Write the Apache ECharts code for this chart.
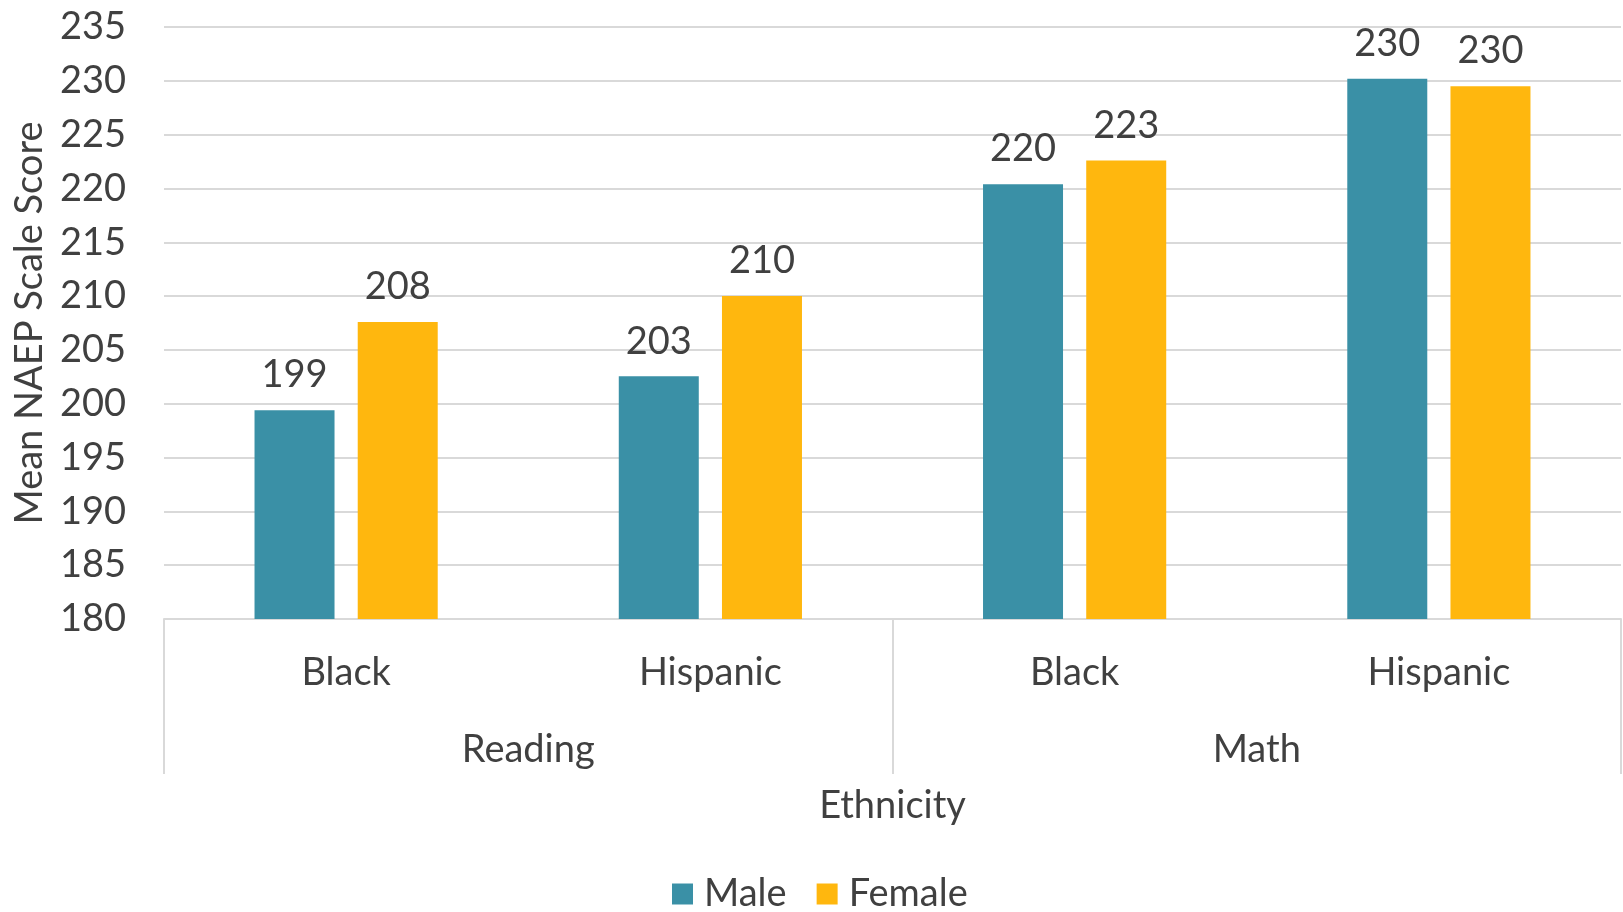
<!DOCTYPE html>
<html>
<head>
<meta charset="utf-8">
<script src="https://cdn.jsdelivr.net/npm/echarts@6/dist/echarts.min.js"></script>
<style>
html,body{margin:0;padding:0;background:#fff;}
#chart{width:1623px;height:912px;}
</style>
</head>
<body>
<div id="chart"></div>
<script>
const ethnicities = ['Black', 'Hispanic', 'Black', 'Hispanic'];
const subjects = ['Reading', 'Math'];
const maleScores = [199.4, 202.55, 220.4, 230.2];
const femaleScores = [207.6, 210.0, 222.6, 229.5];
const seriesNames = ['Male', 'Female'];

const FONT = 'Lato';
const TXT = '#404040';
const GRID = '#D9D9D9';

const chart = echarts.init(document.getElementById('chart'));
const labelCfg = {
  show: true, position: 'top', distance: 16,
  color: TXT, fontSize: 38, fontFamily: FONT,
  formatter: p => Math.round(p.value)
};
chart.setOption({
  animation: false,
  textStyle: { fontFamily: FONT },
  grid: { left: 164, right: 2, top: 27, bottom: 293 },
  legend: {
    data: seriesNames,
    bottom: -6, left: 667,
    itemWidth: 21, itemHeight: 21, itemGap: 30,
    icon: 'rect',
    textStyle: { color: TXT, fontSize: 38, fontFamily: FONT, padding: [0, 0, 0, 6] }
  },
  xAxis: [
    {
      type: 'category', data: ethnicities, position: 'bottom',
      axisLine: { show: true, lineStyle: { color: GRID, width: 2 } },
      axisTick: { show: false },
      axisLabel: { color: TXT, fontSize: 38, fontFamily: FONT, margin: 35, interval: 0 },
      name: 'Ethnicity', nameLocation: 'middle', nameGap: 168,
      nameTextStyle: { color: TXT, fontSize: 38, fontFamily: FONT }
    },
    {
      type: 'category', data: subjects, position: 'bottom',
      axisLine: { show: false },
      axisTick: { show: true, length: 155, interval: 0, lineStyle: { color: GRID, width: 2 } },
      axisLabel: { color: TXT, fontSize: 38, fontFamily: FONT, margin: 112, interval: 0 }
    }
  ],
  yAxis: {
    type: 'value', min: 180, max: 235, interval: 5,
    axisLine: { show: false }, axisTick: { show: false },
    splitLine: { lineStyle: { color: GRID, width: 2 } },
    axisLabel: { color: TXT, fontSize: 38, fontFamily: FONT, margin: 38 },
    name: 'Mean NAEP Scale Score', nameLocation: 'middle', nameGap: 115, nameRotate: 90,
    nameTextStyle: { color: TXT, fontSize: 38, fontFamily: FONT }
  },
  series: [
    {
      name: seriesNames[0], type: 'bar', xAxisIndex: 0, data: maleScores,
      barWidth: 80, barGap: '29%',
      itemStyle: { color: '#3A90A6' }, label: labelCfg
    },
    {
      name: seriesNames[1], type: 'bar', xAxisIndex: 0, data: femaleScores,
      barWidth: 80, barGap: '29%',
      itemStyle: { color: '#FFB70E' }, label: labelCfg
    }
  ]
});
</script>
</body>
</html>
